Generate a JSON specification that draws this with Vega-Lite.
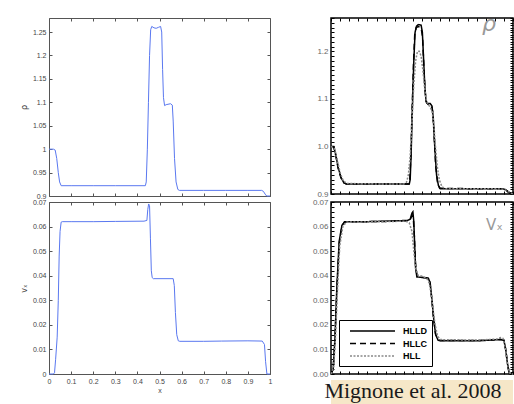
{
  "$schema": "https://vega.github.io/schema/vega-lite/v6.json",
  "autosize": {"type": "none"},
  "padding": {"left": 49, "top": 18, "right": 465, "bottom": 386},
  "background": "white",
  "config": {
    "font": "Liberation Sans",
    "axis": {"grid": false, "domain": false, "tickSize": -3, "labelPadding": 6, "labelFontSize": 7, "labelColor": "#444", "tickColor": "#555", "titleFontWeight": "normal", "titleColor": "#444"},
    "view": {"stroke": null}
  },
  "datasets": {
    "rhoL": [
      {"x": 0, "v": 1.0}, {"x": 0.02, "v": 1.0}, {"x": 0.028, "v": 0.998}, {"x": 0.035, "v": 0.98}, {"x": 0.042, "v": 0.95}, {"x": 0.048, "v": 0.93}, {"x": 0.055, "v": 0.922},
      {"x": 0.1, "v": 0.922}, {"x": 0.2, "v": 0.922}, {"x": 0.3, "v": 0.922}, {"x": 0.436, "v": 0.922}, {"x": 0.44, "v": 0.93}, {"x": 0.445, "v": 1.0}, {"x": 0.45, "v": 1.1},
      {"x": 0.455, "v": 1.2}, {"x": 0.46, "v": 1.255}, {"x": 0.465, "v": 1.262}, {"x": 0.475, "v": 1.259}, {"x": 0.485, "v": 1.258}, {"x": 0.495, "v": 1.26}, {"x": 0.505, "v": 1.262},
      {"x": 0.51, "v": 1.25}, {"x": 0.514, "v": 1.17}, {"x": 0.518, "v": 1.11}, {"x": 0.523, "v": 1.093}, {"x": 0.53, "v": 1.095}, {"x": 0.55, "v": 1.097}, {"x": 0.558, "v": 1.094},
      {"x": 0.562, "v": 1.06}, {"x": 0.568, "v": 0.98}, {"x": 0.575, "v": 0.93}, {"x": 0.583, "v": 0.914}, {"x": 0.59, "v": 0.912}, {"x": 0.7, "v": 0.912}, {"x": 0.8, "v": 0.912},
      {"x": 0.9, "v": 0.912}, {"x": 0.962, "v": 0.912}, {"x": 0.97, "v": 0.91}, {"x": 0.978, "v": 0.904}, {"x": 0.985, "v": 0.9}, {"x": 1.0, "v": 0.9}
    ],
    "vxL": [
      {"x": 0, "v": 0}, {"x": 0.02, "v": 0}, {"x": 0.025, "v": 0.0005}, {"x": 0.03, "v": 0.006}, {"x": 0.037, "v": 0.015}, {"x": 0.042, "v": 0.03}, {"x": 0.046, "v": 0.048},
      {"x": 0.05, "v": 0.058}, {"x": 0.055, "v": 0.0618}, {"x": 0.06, "v": 0.062}, {"x": 0.1, "v": 0.062}, {"x": 0.2, "v": 0.062}, {"x": 0.3, "v": 0.0621}, {"x": 0.43, "v": 0.0622},
      {"x": 0.443, "v": 0.0625}, {"x": 0.447, "v": 0.067}, {"x": 0.451, "v": 0.0692}, {"x": 0.455, "v": 0.0685}, {"x": 0.459, "v": 0.055}, {"x": 0.463, "v": 0.042}, {"x": 0.467, "v": 0.0392},
      {"x": 0.472, "v": 0.0388}, {"x": 0.562, "v": 0.0388}, {"x": 0.567, "v": 0.036}, {"x": 0.572, "v": 0.025}, {"x": 0.578, "v": 0.016}, {"x": 0.585, "v": 0.0135}, {"x": 0.592, "v": 0.0133},
      {"x": 0.7, "v": 0.0133}, {"x": 0.78, "v": 0.0134}, {"x": 0.9, "v": 0.0135}, {"x": 0.965, "v": 0.0134}, {"x": 0.975, "v": 0.012}, {"x": 0.98, "v": 0.005}, {"x": 0.986, "v": 0}, {"x": 1.0, "v": 0}
    ],
    "rhoR": [
      {"m": "HLLD", "x": 0, "v": 1.0}, {"m": "HLLD", "x": 0.015, "v": 1.0}, {"m": "HLLD", "x": 0.025, "v": 0.985}, {"m": "HLLD", "x": 0.04, "v": 0.955}, {"m": "HLLD", "x": 0.055, "v": 0.935},
      {"m": "HLLD", "x": 0.07, "v": 0.924}, {"m": "HLLD", "x": 0.085, "v": 0.921}, {"m": "HLLD", "x": 0.2, "v": 0.921}, {"m": "HLLD", "x": 0.43, "v": 0.921}, {"m": "HLLD", "x": 0.435, "v": 0.93},
      {"m": "HLLD", "x": 0.44, "v": 0.98}, {"m": "HLLD", "x": 0.447, "v": 1.08}, {"m": "HLLD", "x": 0.455, "v": 1.18}, {"m": "HLLD", "x": 0.462, "v": 1.24}, {"m": "HLLD", "x": 0.47, "v": 1.253},
      {"m": "HLLD", "x": 0.48, "v": 1.256}, {"m": "HLLD", "x": 0.495, "v": 1.255}, {"m": "HLLD", "x": 0.502, "v": 1.24}, {"m": "HLLD", "x": 0.508, "v": 1.19}, {"m": "HLLD", "x": 0.515, "v": 1.13},
      {"m": "HLLD", "x": 0.522, "v": 1.095}, {"m": "HLLD", "x": 0.53, "v": 1.09}, {"m": "HLLD", "x": 0.545, "v": 1.09}, {"m": "HLLD", "x": 0.555, "v": 1.085}, {"m": "HLLD", "x": 0.562, "v": 1.06},
      {"m": "HLLD", "x": 0.57, "v": 1.0}, {"m": "HLLD", "x": 0.58, "v": 0.94}, {"m": "HLLD", "x": 0.59, "v": 0.918}, {"m": "HLLD", "x": 0.6, "v": 0.911}, {"m": "HLLD", "x": 0.8, "v": 0.911},
      {"m": "HLLD", "x": 0.94, "v": 0.911}, {"m": "HLLD", "x": 0.96, "v": 0.909}, {"m": "HLLD", "x": 0.98, "v": 0.903}, {"m": "HLLD", "x": 1.0, "v": 0.9},
      {"m": "HLLC", "x": 0, "v": 1.0}, {"m": "HLLC", "x": 0.015, "v": 0.999}, {"m": "HLLC", "x": 0.025, "v": 0.983}, {"m": "HLLC", "x": 0.04, "v": 0.953}, {"m": "HLLC", "x": 0.055, "v": 0.934},
      {"m": "HLLC", "x": 0.07, "v": 0.924}, {"m": "HLLC", "x": 0.085, "v": 0.921}, {"m": "HLLC", "x": 0.3, "v": 0.921}, {"m": "HLLC", "x": 0.428, "v": 0.921}, {"m": "HLLC", "x": 0.433, "v": 0.93},
      {"m": "HLLC", "x": 0.438, "v": 0.975}, {"m": "HLLC", "x": 0.445, "v": 1.07}, {"m": "HLLC", "x": 0.453, "v": 1.17}, {"m": "HLLC", "x": 0.46, "v": 1.235}, {"m": "HLLC", "x": 0.468, "v": 1.25},
      {"m": "HLLC", "x": 0.48, "v": 1.252}, {"m": "HLLC", "x": 0.495, "v": 1.25}, {"m": "HLLC", "x": 0.503, "v": 1.23}, {"m": "HLLC", "x": 0.51, "v": 1.17}, {"m": "HLLC", "x": 0.517, "v": 1.115},
      {"m": "HLLC", "x": 0.525, "v": 1.092}, {"m": "HLLC", "x": 0.535, "v": 1.088}, {"m": "HLLC", "x": 0.55, "v": 1.087}, {"m": "HLLC", "x": 0.558, "v": 1.075}, {"m": "HLLC", "x": 0.566, "v": 1.03},
      {"m": "HLLC", "x": 0.575, "v": 0.96}, {"m": "HLLC", "x": 0.585, "v": 0.925}, {"m": "HLLC", "x": 0.597, "v": 0.912}, {"m": "HLLC", "x": 0.8, "v": 0.911}, {"m": "HLLC", "x": 0.94, "v": 0.911},
      {"m": "HLLC", "x": 0.96, "v": 0.908}, {"m": "HLLC", "x": 0.98, "v": 0.902}, {"m": "HLLC", "x": 1.0, "v": 0.9},
      {"m": "HLL", "x": 0, "v": 1.0}, {"m": "HLL", "x": 0.02, "v": 0.995}, {"m": "HLL", "x": 0.035, "v": 0.97}, {"m": "HLL", "x": 0.05, "v": 0.945}, {"m": "HLL", "x": 0.065, "v": 0.93},
      {"m": "HLL", "x": 0.085, "v": 0.922}, {"m": "HLL", "x": 0.3, "v": 0.921}, {"m": "HLL", "x": 0.4, "v": 0.921}, {"m": "HLL", "x": 0.415, "v": 0.925}, {"m": "HLL", "x": 0.425, "v": 0.94},
      {"m": "HLL", "x": 0.435, "v": 0.98}, {"m": "HLL", "x": 0.445, "v": 1.05}, {"m": "HLL", "x": 0.455, "v": 1.13}, {"m": "HLL", "x": 0.465, "v": 1.18}, {"m": "HLL", "x": 0.475, "v": 1.2},
      {"m": "HLL", "x": 0.485, "v": 1.2}, {"m": "HLL", "x": 0.495, "v": 1.19}, {"m": "HLL", "x": 0.505, "v": 1.16}, {"m": "HLL", "x": 0.515, "v": 1.12}, {"m": "HLL", "x": 0.525, "v": 1.095},
      {"m": "HLL", "x": 0.54, "v": 1.085}, {"m": "HLL", "x": 0.555, "v": 1.075}, {"m": "HLL", "x": 0.565, "v": 1.045}, {"m": "HLL", "x": 0.575, "v": 0.995}, {"m": "HLL", "x": 0.585, "v": 0.955},
      {"m": "HLL", "x": 0.595, "v": 0.93}, {"m": "HLL", "x": 0.61, "v": 0.915}, {"m": "HLL", "x": 0.63, "v": 0.911}, {"m": "HLL", "x": 0.9, "v": 0.911}, {"m": "HLL", "x": 0.95, "v": 0.91},
      {"m": "HLL", "x": 0.975, "v": 0.905}, {"m": "HLL", "x": 1.0, "v": 0.9}
    ],
    "vxR": [
      {"m": "HLLD", "x": 0, "v": 0}, {"m": "HLLD", "x": 0.012, "v": 0.002}, {"m": "HLLD", "x": 0.022, "v": 0.015}, {"m": "HLLD", "x": 0.032, "v": 0.035}, {"m": "HLLD", "x": 0.045, "v": 0.054},
      {"m": "HLLD", "x": 0.06, "v": 0.0605}, {"m": "HLLD", "x": 0.075, "v": 0.062}, {"m": "HLLD", "x": 0.2, "v": 0.062}, {"m": "HLLD", "x": 0.3, "v": 0.0622}, {"m": "HLLD", "x": 0.42, "v": 0.0625},
      {"m": "HLLD", "x": 0.435, "v": 0.063}, {"m": "HLLD", "x": 0.445, "v": 0.0655}, {"m": "HLLD", "x": 0.45, "v": 0.066}, {"m": "HLLD", "x": 0.455, "v": 0.062}, {"m": "HLLD", "x": 0.46, "v": 0.052},
      {"m": "HLLD", "x": 0.465, "v": 0.043}, {"m": "HLLD", "x": 0.472, "v": 0.0395}, {"m": "HLLD", "x": 0.5, "v": 0.0393}, {"m": "HLLD", "x": 0.535, "v": 0.039}, {"m": "HLLD", "x": 0.545, "v": 0.037},
      {"m": "HLLD", "x": 0.555, "v": 0.03}, {"m": "HLLD", "x": 0.565, "v": 0.022}, {"m": "HLLD", "x": 0.575, "v": 0.016}, {"m": "HLLD", "x": 0.588, "v": 0.0138}, {"m": "HLLD", "x": 0.6, "v": 0.0135},
      {"m": "HLLD", "x": 0.8, "v": 0.0135}, {"m": "HLLD", "x": 0.93, "v": 0.014}, {"m": "HLLD", "x": 0.95, "v": 0.0138}, {"m": "HLLD", "x": 0.96, "v": 0.01}, {"m": "HLLD", "x": 0.97, "v": 0.004},
      {"m": "HLLD", "x": 0.98, "v": 0}, {"m": "HLLD", "x": 1.0, "v": 0},
      {"m": "HLLC", "x": 0, "v": 0}, {"m": "HLLC", "x": 0.012, "v": 0.002}, {"m": "HLLC", "x": 0.022, "v": 0.014}, {"m": "HLLC", "x": 0.032, "v": 0.034}, {"m": "HLLC", "x": 0.045, "v": 0.053},
      {"m": "HLLC", "x": 0.06, "v": 0.0603}, {"m": "HLLC", "x": 0.075, "v": 0.0619}, {"m": "HLLC", "x": 0.2, "v": 0.062}, {"m": "HLLC", "x": 0.3, "v": 0.0621}, {"m": "HLLC", "x": 0.42, "v": 0.0624},
      {"m": "HLLC", "x": 0.435, "v": 0.0628}, {"m": "HLLC", "x": 0.445, "v": 0.0645}, {"m": "HLLC", "x": 0.452, "v": 0.064}, {"m": "HLLC", "x": 0.458, "v": 0.056}, {"m": "HLLC", "x": 0.464, "v": 0.045},
      {"m": "HLLC", "x": 0.473, "v": 0.0398}, {"m": "HLLC", "x": 0.5, "v": 0.0394}, {"m": "HLLC", "x": 0.533, "v": 0.039}, {"m": "HLLC", "x": 0.543, "v": 0.0375}, {"m": "HLLC", "x": 0.553, "v": 0.031},
      {"m": "HLLC", "x": 0.563, "v": 0.023}, {"m": "HLLC", "x": 0.574, "v": 0.0165}, {"m": "HLLC", "x": 0.588, "v": 0.014}, {"m": "HLLC", "x": 0.6, "v": 0.0136}, {"m": "HLLC", "x": 0.8, "v": 0.0136},
      {"m": "HLLC", "x": 0.93, "v": 0.0141}, {"m": "HLLC", "x": 0.95, "v": 0.0137}, {"m": "HLLC", "x": 0.96, "v": 0.0098}, {"m": "HLLC", "x": 0.97, "v": 0.004}, {"m": "HLLC", "x": 0.98, "v": 0}, {"m": "HLLC", "x": 1.0, "v": 0},
      {"m": "HLL", "x": 0, "v": 0}, {"m": "HLL", "x": 0.015, "v": 0.003}, {"m": "HLL", "x": 0.025, "v": 0.015}, {"m": "HLL", "x": 0.035, "v": 0.033}, {"m": "HLL", "x": 0.048, "v": 0.052},
      {"m": "HLL", "x": 0.065, "v": 0.06}, {"m": "HLL", "x": 0.085, "v": 0.0618}, {"m": "HLL", "x": 0.3, "v": 0.062}, {"m": "HLL", "x": 0.41, "v": 0.0622}, {"m": "HLL", "x": 0.43, "v": 0.0615},
      {"m": "HLL", "x": 0.445, "v": 0.058}, {"m": "HLL", "x": 0.455, "v": 0.05}, {"m": "HLL", "x": 0.465, "v": 0.043}, {"m": "HLL", "x": 0.478, "v": 0.0402}, {"m": "HLL", "x": 0.5, "v": 0.0398},
      {"m": "HLL", "x": 0.525, "v": 0.039}, {"m": "HLL", "x": 0.54, "v": 0.037}, {"m": "HLL", "x": 0.555, "v": 0.03}, {"m": "HLL", "x": 0.57, "v": 0.021}, {"m": "HLL", "x": 0.585, "v": 0.0155},
      {"m": "HLL", "x": 0.6, "v": 0.014}, {"m": "HLL", "x": 0.8, "v": 0.0138}, {"m": "HLL", "x": 0.91, "v": 0.0142}, {"m": "HLL", "x": 0.93, "v": 0.0148}, {"m": "HLL", "x": 0.945, "v": 0.0145},
      {"m": "HLL", "x": 0.96, "v": 0.01}, {"m": "HLL", "x": 0.972, "v": 0.003}, {"m": "HLL", "x": 0.985, "v": 0}, {"m": "HLL", "x": 1.0, "v": 0}
    ],
    "cap": [{"label": "Mignone et al. 2008"}],
    "none": [{"label": ""}]
  },
  "concat": [
    {
      "width": 221, "height": 178,
      "data": {"name": "rhoL"},
      "view": {"stroke": "#555", "fill": "white"},
      "layer": [
        {
          "mark": {"type": "line", "color": "#5a78f0", "strokeWidth": 1},
          "encoding": {
            "x": {"field": "x", "type": "quantitative", "scale": {"domain": [0, 1], "nice": false, "zero": false},
                  "axis": {"orient": "bottom", "values": [0, 0.1, 0.2, 0.3, 0.4, 0.5, 0.6, 0.7, 0.8, 0.9, 1], "labels": false, "title": null}},
            "y": {"field": "v", "type": "quantitative", "scale": {"domain": [0.9, 1.28], "nice": false, "zero": false},
                  "axis": {"orient": "left", "values": [0.9, 0.95, 1, 1.05, 1.1, 1.15, 1.2, 1.25], "format": ".2~f", "title": "ρ", "titleFontSize": 8, "titlePadding": 4, "titleFont": "DejaVu Sans"}}
          }
        },
        {
          "mark": {"type": "line", "strokeOpacity": 0},
          "encoding": {
            "x": {"field": "x", "type": "quantitative", "axis": {"orient": "top", "values": [0, 0.1, 0.2, 0.3, 0.4, 0.5, 0.6, 0.7, 0.8, 0.9, 1], "labels": false, "title": null}},
            "y": {"field": "v", "type": "quantitative", "axis": {"orient": "right", "values": [0.9, 0.95, 1, 1.05, 1.1, 1.15, 1.2, 1.25], "labels": false, "title": null}}
          }
        }
      ],
      "resolve": {"axis": {"x": "independent", "y": "independent"}}
    },
    {
      "width": 182, "height": 176,
      "data": {"name": "rhoR"},
      "view": {"stroke": "black", "strokeWidth": 1.5, "fill": "white"},
      "title": {"text": "ρ", "anchor": "end", "baseline": "alphabetic", "offset": -39, "dx": -20, "fontSize": 22, "fontStyle": "italic", "fontWeight": "normal", "font": "DejaVu Sans", "color": "#999"},
      "layer": [
        {
          "mark": {"type": "line", "strokeWidth": 1.5},
          "encoding": {
            "x": {"field": "x", "type": "quantitative", "scale": {"domain": [0, 1], "nice": false, "zero": false},
                  "axis": {"orient": "bottom", "tickCount": 20, "labels": false, "title": null, "tickColor": "black"}},
            "y": {"field": "v", "type": "quantitative", "scale": {"domain": [0.9, 1.27], "nice": false, "zero": false},
                  "axis": {"orient": "left", "tickCount": 37, "labelExpr": "abs(datum.value*10 - round(datum.value*10)) < 0.001 ? format(datum.value, '.1f') : ''", "labelOverlap": false, "labelFontSize": 8, "labelColor": "#666", "tickColor": "black", "title": null}},
            "color": {"field": "m", "type": "nominal", "scale": {"domain": ["HLLD", "HLLC", "HLL"], "range": ["black", "black", "#888"]}, "legend": null},
            "strokeDash": {"field": "m", "type": "nominal", "scale": {"domain": ["HLLD", "HLLC", "HLL"], "range": [[1, 0], [6, 4], [2, 1.5]]}, "legend": null}
          }
        },
        {
          "mark": {"type": "line", "strokeOpacity": 0},
          "encoding": {
            "x": {"field": "x", "type": "quantitative", "axis": {"orient": "top", "tickCount": 20, "labels": false, "title": null, "tickColor": "black"}},
            "y": {"field": "v", "type": "quantitative", "axis": {"orient": "right", "tickCount": 74, "labels": false, "title": null, "tickColor": "black"}},
            "detail": {"field": "m"}
          }
        }
      ],
      "resolve": {"axis": {"x": "independent", "y": "independent"}}
    },
    {
      "width": 221, "height": 172,
      "data": {"name": "vxL"},
      "view": {"stroke": "#555", "fill": "white"},
      "layer": [
        {
          "mark": {"type": "line", "color": "#5a78f0", "strokeWidth": 1},
          "encoding": {
            "x": {"field": "x", "type": "quantitative", "scale": {"domain": [0, 1], "nice": false, "zero": false},
                  "axis": {"orient": "bottom", "values": [0, 0.1, 0.2, 0.3, 0.4, 0.5, 0.6, 0.7, 0.8, 0.9, 1], "format": ".1~f", "labelFlush": false, "title": "x", "titleFontSize": 7, "titlePadding": 2}},
            "y": {"field": "v", "type": "quantitative", "scale": {"domain": [0, 0.07], "nice": false, "zero": false},
                  "axis": {"orient": "left", "values": [0, 0.01, 0.02, 0.03, 0.04, 0.05, 0.06, 0.07], "format": ".2~f", "title": "vₓ", "titleFontSize": 8, "titlePadding": 4, "titleFont": "DejaVu Sans"}}
          }
        },
        {
          "mark": {"type": "line", "strokeOpacity": 0},
          "encoding": {
            "x": {"field": "x", "type": "quantitative", "axis": {"orient": "top", "values": [0, 0.1, 0.2, 0.3, 0.4, 0.5, 0.6, 0.7, 0.8, 0.9, 1], "labels": false, "title": null}},
            "y": {"field": "v", "type": "quantitative", "axis": {"orient": "right", "values": [0, 0.01, 0.02, 0.03, 0.04, 0.05, 0.06, 0.07], "labels": false, "title": null}}
          }
        }
      ],
      "resolve": {"axis": {"x": "independent", "y": "independent"}}
    },
    {
      "width": 182, "height": 172,
      "data": {"name": "vxR"},
      "view": {"stroke": "black", "strokeWidth": 1.5, "fill": "white"},
      "title": {"text": "Vₓ", "anchor": "end", "baseline": "alphabetic", "offset": -47, "dx": -13, "fontSize": 15, "fontWeight": "normal", "font": "DejaVu Sans", "color": "#999"},
      "layer": [
        {
          "mark": {"type": "line", "strokeWidth": 1.5},
          "encoding": {
            "x": {"field": "x", "type": "quantitative", "scale": {"domain": [0, 1], "nice": false, "zero": false},
                  "axis": {"orient": "bottom", "tickCount": 20, "labels": false, "title": null, "tickColor": "black"}},
            "y": {"field": "v", "type": "quantitative", "scale": {"domain": [0, 0.07], "nice": false, "zero": false},
                  "axis": {"orient": "left", "tickCount": 35, "labelExpr": "abs(datum.value*100 - round(datum.value*100)) < 0.001 ? format(datum.value, '.2f') : ''", "labelOverlap": false, "labelFontSize": 8, "labelColor": "#666", "tickColor": "black", "title": null}},
            "color": {"field": "m", "type": "nominal", "scale": {"domain": ["HLLD", "HLLC", "HLL"], "range": ["black", "black", "#888"]},
                      "legend": {"orient": "bottom-left", "offset": 8, "title": null, "fillColor": "white", "strokeColor": "black", "padding": 5, "symbolType": "M0,0H9", "symbolSize": 100, "symbolStrokeWidth": 1.5, "labelFontSize": 9, "labelFontWeight": "bold", "labelColor": "black", "rowPadding": 1.5, "labelOffset": 47}},
            "strokeDash": {"field": "m", "type": "nominal", "scale": {"domain": ["HLLD", "HLLC", "HLL"], "range": [[1, 0], [6, 4], [2, 1.5]]}}
          }
        },
        {
          "mark": {"type": "line", "strokeOpacity": 0},
          "encoding": {
            "x": {"field": "x", "type": "quantitative", "axis": {"orient": "top", "tickCount": 20, "labels": false, "title": null, "tickColor": "black"}},
            "y": {"field": "v", "type": "quantitative", "axis": {"orient": "right", "tickCount": 70, "labels": false, "title": null, "tickColor": "black"}},
            "detail": {"field": "m"}
          }
        }
      ],
      "resolve": {"axis": {"x": "independent", "y": "independent"}}
    },
    {
      "width": 221, "height": 24,
      "data": {"name": "none"},
      "mark": {"type": "text"},
      "encoding": {"text": {"field": "label"}}
    },
    {
      "width": 182, "height": 24,
      "data": {"name": "cap"},
      "view": {"fill": "#f6e7c8", "stroke": null},
      "mark": {"type": "text", "font": "Liberation Serif", "fontSize": 22, "color": "#1a1a1a", "baseline": "middle", "dx": -9, "dy": -1},
      "encoding": {"text": {"field": "label"}}
    }
  ],
  "columns": 2,
  "spacing": {"row": 6, "column": 61},
  "bounds": "flush",
  "align": "each",
  "resolve": {"scale": {"color": "independent", "strokeDash": "independent"}, "legend": {"color": "independent", "strokeDash": "independent"}}
}
